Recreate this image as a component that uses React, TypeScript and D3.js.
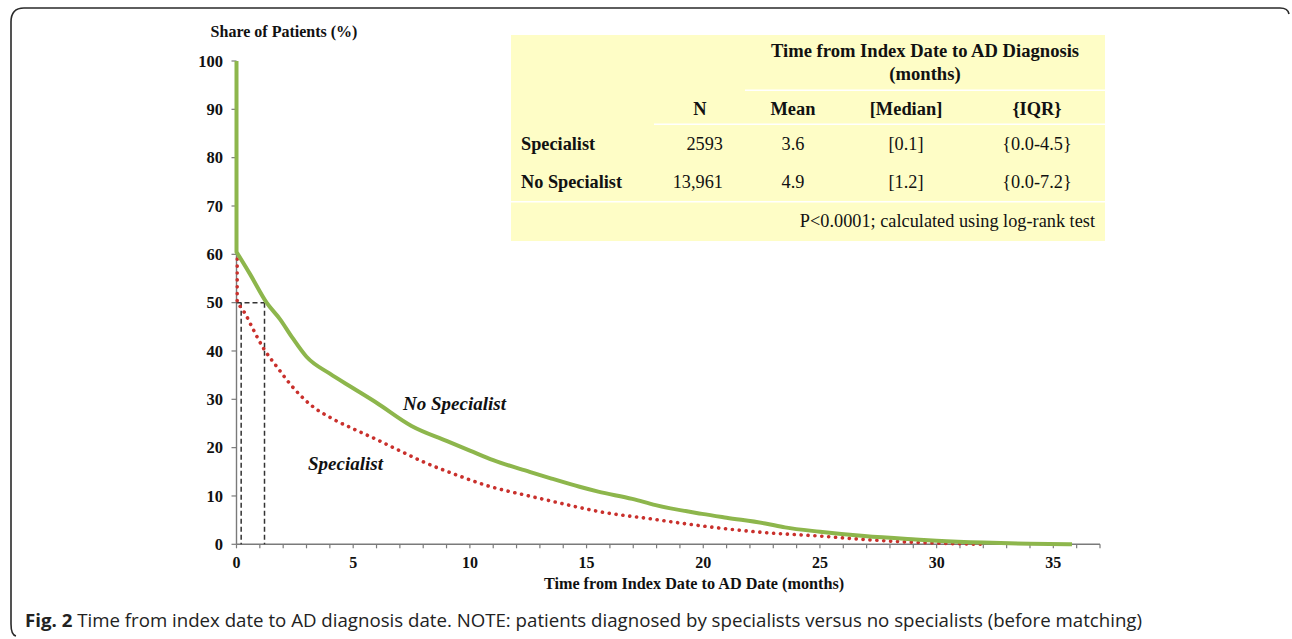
import React from "react";
import * as d3 from "d3";

// ---- data ----
const noSpecT = [0, 0, 0.58, 1.29, 1.86, 2.4, 3.0, 4.0, 5.0, 6.0, 7.5, 9.0, 10.0, 11.0, 12.56, 13.5, 14.7, 15.5, 16.96, 17.96, 19.95, 21.0, 22.66, 23.5, 25.0, 26.9, 29.1, 30.0, 32.0, 34.0, 35.8];
const noSpecV = [100, 60.5, 55.9, 50.0, 46.6, 42.7, 38.8, 35.3, 32.3, 29.3, 24.5, 21.4, 19.4, 17.4, 15.0, 13.6, 11.9, 10.9, 9.4, 8.1, 6.3, 5.5, 4.3, 3.5, 2.6, 1.7, 1.0, 0.75, 0.35, 0.1, 0.0];

const specT = [0.03, 0.03, 0.22, 0.36, 0.69, 1.15, 1.72, 2.29, 3.14, 4.14, 5.0, 6.13, 6.85, 7.98, 9.4, 10.83, 12.26, 13.26, 14.7, 15.5, 17.7, 19.95, 22.7, 25.0, 26.9, 29.1, 31.9];
const specV = [59, 50, 48.8, 47.8, 44.7, 40.6, 36.8, 33.2, 29.0, 25.9, 23.9, 21.4, 19.7, 17.1, 14.4, 12.0, 10.3, 9.2, 7.6, 6.8, 5.3, 3.8, 2.4, 1.7, 1.0, 0.4, 0.0];

const medianMarks = [0.2, 1.2];
const yTicks = [0, 10, 20, 30, 40, 50, 60, 70, 80, 90, 100];
const xLabelTicks = [0, 5, 10, 15, 20, 25, 30, 35];
const xMinorTicks = d3.range(0, 38, 1);

const tableTitle1 = "Time from Index Date to AD Diagnosis";
const tableTitle2 = "(months)";
const tableHeaders = ["N", "Mean", "[Median]", "{IQR}"];
const tableGroups = ["Specialist", "No Specialist"];
const tableN = ["2593", "13,961"];
const tableMean = ["3.6", "4.9"];
const tableMedian = ["[0.1]", "[1.2]"];
const tableIQR = ["{0.0-4.5}", "{0.0-7.2}"];
const tableNote = "P<0.0001; calculated using log-rank test";

const GREEN = "#8DB64C";
const RED = "#C9302C";
const YELLOW = "#FEFDC6";
const SERIF = "'Liberation Serif', 'Times New Roman', serif";

export default function App() {
  const x = d3.scaleLinear().domain([0, 37]).range([236.5, 1100]);
  const y = d3.scaleLinear().domain([0, 100]).range([544.3, 61]);

  const smooth = d3
    .line<[number, number]>()
    .x((d) => x(d[0]))
    .y((d) => y(d[1]))
    .curve(d3.curveMonotoneX);
  const straight = d3
    .line<[number, number]>()
    .x((d) => x(d[0]))
    .y((d) => y(d[1]));

  const greenPts: [number, number][] = noSpecT.map((t, i) => [t, noSpecV[i]]);
  const redPts: [number, number][] = specT.map((t, i) => [t, specV[i]]);

  // vertical drop (first two points) drawn straight, the rest smoothed
  const greenD = (straight(greenPts.slice(0, 2)) || "") + (smooth(greenPts.slice(1)) || "").replace(/^M/, "L");
  const redD = (straight(redPts.slice(0, 2)) || "") + (smooth(redPts.slice(1)) || "").replace(/^M/, "L");

  const colX = [700, 793, 906, 1037];
  const rowY = [150, 188];

  return (
    <svg
      width={1292}
      height={639}
      style={{ position: "absolute", left: 0, top: 0, background: "#fff" }}
      fontFamily={SERIF}
    >
      {/* frame */}
      <path
        d="M1289,14 Q1288,8 1280,8 L24,8 Q11,8 11,22 L11,624 Q11,635 16,636"
        fill="none"
        stroke="#2a2a2a"
        strokeWidth={1.6}
      />

      {/* table */}
      <rect x={511} y={35} width={594} height={206} fill={YELLOW} />
      <line x1={745} x2={1105} y1={90.3} y2={90.3} stroke="#fff" strokeWidth={1.5} />
      <line x1={654} x2={1105} y1={124.3} y2={124.3} stroke="#fff" strokeWidth={1.5} />
      <line x1={511} x2={1105} y1={201.7} y2={201.7} stroke="#fff" strokeWidth={1.5} />
      <text x={925} y={57} textAnchor="middle" fontWeight="bold" fontSize={18.6} fill="#111">
        {tableTitle1}
      </text>
      <text x={925} y={80} textAnchor="middle" fontWeight="bold" fontSize={18.6} fill="#111">
        {tableTitle2}
      </text>
      {tableHeaders.map((h, i) => (
        <text key={h} x={colX[i]} y={115} textAnchor="middle" fontWeight="bold" fontSize={18.4} fill="#111">
          {h}
        </text>
      ))}
      {tableGroups.map((g, i) => (
        <g key={g} fontSize={18.3} fill="#111">
          <text x={521} y={rowY[i]} fontWeight="bold">
            {g}
          </text>
          <text x={723} y={rowY[i]} textAnchor="end">
            {tableN[i]}
          </text>
          <text x={colX[1]} y={rowY[i]} textAnchor="middle">
            {tableMean[i]}
          </text>
          <text x={colX[2]} y={rowY[i]} textAnchor="middle">
            {tableMedian[i]}
          </text>
          <text x={colX[3]} y={rowY[i]} textAnchor="middle">
            {tableIQR[i]}
          </text>
        </g>
      ))}
      <text x={1095} y={227} textAnchor="end" fontSize={18.3} fill="#111">
        {tableNote}
      </text>

      {/* axes */}
      <line x1={x(0)} x2={x(0)} y1={y(100)} y2={y(0)} stroke="#7a7a7a" strokeWidth={1.4} />
      <line x1={x(0)} x2={x(37)} y1={y(0)} y2={y(0)} stroke="#7a7a7a" strokeWidth={1.4} />
      {yTicks.map((t) => (
        <g key={t}>
          <line x1={x(0) - 5} x2={x(0)} y1={y(t)} y2={y(t)} stroke="#7a7a7a" strokeWidth={1.2} />
          <text
            x={223}
            y={y(t)}
            dy="0.35em"
            textAnchor="end"
            fontWeight="bold"
            fontSize={16.5}
            fill="#111"
          >
            {t}
          </text>
        </g>
      ))}
      {xMinorTicks.map((t) => (
        <line key={t} x1={x(t)} x2={x(t)} y1={y(0)} y2={y(0) + 4} stroke="#7a7a7a" strokeWidth={1.2} />
      ))}
      {xLabelTicks.map((t) => (
        <text key={t} x={x(t)} y={568} textAnchor="middle" fontWeight="bold" fontSize={16} fill="#111">
          {t}
        </text>
      ))}
      <text x={284} y={37} textAnchor="middle" fontWeight="bold" fontSize={16} fill="#111">
        Share of Patients (%)
      </text>
      <text x={694} y={589} textAnchor="middle" fontWeight="bold" fontSize={16.2} fill="#111">
        Time from Index Date to AD Date (months)
      </text>

      {/* median reference lines */}
      <line
        x1={x(0)}
        x2={x(medianMarks[1])}
        y1={y(50)}
        y2={y(50)}
        stroke="#333"
        strokeWidth={1.5}
        strokeDasharray="5 3"
      />
      {medianMarks.map((m) => (
        <line
          key={m}
          x1={x(m)}
          x2={x(m)}
          y1={y(50)}
          y2={y(0)}
          stroke="#333"
          strokeWidth={1.5}
          strokeDasharray="5 3"
        />
      ))}

      {/* curves */}
      <path d={redD} fill="none" stroke={RED} strokeWidth={3.6} strokeLinecap="round" strokeDasharray="0.1 6.8" />
      <path d={greenD} fill="none" stroke={GREEN} strokeWidth={4} strokeLinejoin="round" />

      {/* series labels */}
      <text x={403} y={410} fontWeight="bold" fontStyle="italic" fontSize={19} fill="#111">
        No Specialist
      </text>
      <text x={308} y={470} fontWeight="bold" fontStyle="italic" fontSize={19} fill="#111">
        Specialist
      </text>

      {/* caption */}
      <text
        x={25}
        y={627}
        fontFamily="'Open Sans', 'Noto Sans', sans-serif"
        fontSize={18.5}
        fill="#222"
        textLength={1117}
        lengthAdjust="spacingAndGlyphs"
      >
        <tspan fontWeight="bold">Fig. 2</tspan>
        <tspan> Time from index date to AD diagnosis date. NOTE: patients diagnosed by specialists versus no specialists (before matching)</tspan>
      </text>
    </svg>
  );
}
